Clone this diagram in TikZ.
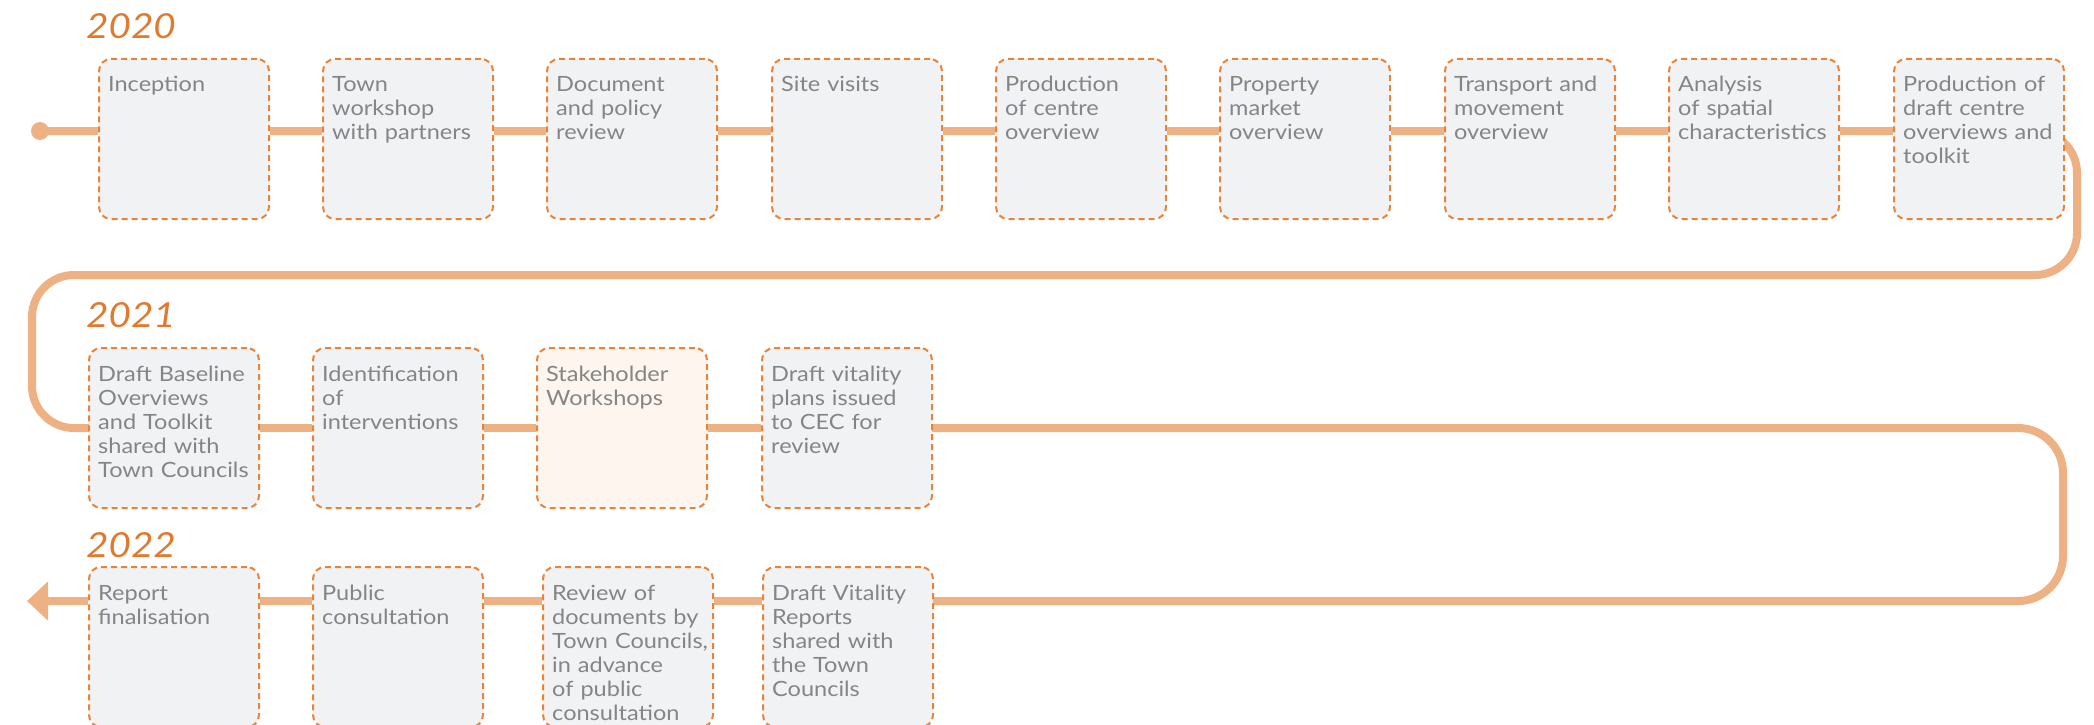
\documentclass[tikz,border=0pt]{standalone}
\usepackage{fontspec}
\setmainfont{Lato}[FakeStretch=1.12]
\usetikzlibrary{arrows.meta,calc,backgrounds}
\definecolor{spineC}{HTML}{EEB184}
\definecolor{borderC}{HTML}{E8833A}
\definecolor{fillC}{HTML}{F1F2F4}
\definecolor{creamC}{HTML}{FDF5EE}
\definecolor{textC}{HTML}{858585}
\definecolor{yearC}{HTML}{E07A30}
\begin{document}
\begin{tikzpicture}[x=1pt,y=-1pt,
  box/.style={draw=borderC, line width=2pt, dash pattern=on 6pt off 4pt, fill=fillC,
    rounded corners=12pt, minimum width=170pt, minimum height=160pt, inner sep=0pt, anchor=north west},
  txt/.style={anchor=base west, align=left, text width=200pt, inner sep=0pt, text=textC,
    font=\fontsize{21}{24}\selectfont},
  yr/.style={anchor=base west, inner sep=0pt, text=yearC, font=\fontsize{34.5}{36}\selectfont\itshape},
  spine/.style={draw=spineC, line width=8pt}]
\useasboundingbox (0,0) rectangle (2094,725);
\coordinate (r1) at (0,131);
\coordinate (r2) at (0,428);
\coordinate (r3) at (0,601);
% years
\node[yr] (y20) at (86,39) {2020};
\node[yr] (y21) at (86,327) {2021};
\node[yr] (y22) at (86,557) {2022};
% row 1
\node[box] (b1) at (98,58) {};
\node[box] (b2) at (322,58) {};
\node[box] (b3) at (546,58) {};
\node[box] (b4) at (771,58) {};
\node[box] (b5) at (995,58) {};
\node[box] (b6) at (1219,58) {};
\node[box] (b7) at (1444,58) {};
\node[box] (b8) at (1668,58) {};
\node[box] (b9) at (1893,58) {};
\node[txt] (t1) at ($(b1.north west)+(10,34)$) {Inception};
\node[txt] (t2) at ($(b2.north west)+(10,34)$) {Town\\workshop\\with partners};
\node[txt] (t3) at ($(b3.north west)+(10,34)$) {Document\\and policy\\review};
\node[txt] (t4) at ($(b4.north west)+(10,34)$) {Site visits};
\node[txt] (t5) at ($(b5.north west)+(10,34)$) {Production\\of centre\\overview};
\node[txt] (t6) at ($(b6.north west)+(10,34)$) {Property\\market\\overview};
\node[txt] (t7) at ($(b7.north west)+(10,34)$) {Transport and\\movement\\overview};
\node[txt] (t8) at ($(b8.north west)+(10,34)$) {Analysis\\of spatial\\characteristics};
\node[txt] (t9) at ($(b9.north west)+(10,34)$) {Production of\\draft centre\\overviews and\\toolkit};
% row 2
\node[box] (c1) at (88,347) {};
\node[box] (c2) at (312,347) {};
\node[box, fill=creamC] (c3) at (536,347) {};
\node[box] (c4) at (761,347) {};
\node[txt] (u1) at ($(c1.north west)+(10,34)$) {Draft Baseline\\Overviews\\and Toolkit\\shared with\\Town Councils};
\node[txt] (u2) at ($(c2.north west)+(10,34)$) {Identification\\of\\interventions};
\node[txt] (u3) at ($(c3.north west)+(10,34)$) {Stakeholder\\Workshops};
\node[txt] (u4) at ($(c4.north west)+(10,34)$) {Draft vitality\\plans issued\\to CEC for\\review};
% row 3
\node[box] (d1) at (88,566) {};
\node[box] (d2) at (312,566) {};
\node[box] (d3) at (542,566) {};
\node[box] (d4) at (762,566) {};
\node[txt] (v1) at ($(d1.north west)+(10,34)$) {Report\\finalisation};
\node[txt] (v2) at ($(d2.north west)+(10,34)$) {Public\\consultation};
\node[txt] (v3) at ($(d3.north west)+(10,34)$) {Review of\\documents by\\Town Councils,\\in advance\\of public\\consultation};
\node[txt] (v4) at ($(d4.north west)+(10,34)$) {Draft Vitality\\Reports\\shared with\\the Town\\Councils};
% start and end
\node[circle, fill=spineC, minimum size=18pt, inner sep=0pt] (s) at (40,131) {};
\coordinate (e) at (27,601);
% connectors
\draw[spine] (s.center) -- (b1.west |- r1);
\foreach \a/\b in {b1/b2,b2/b3,b3/b4,b4/b5,b5/b6,b6/b7,b7/b8,b8/b9}
  \draw[spine] (\a.east |- r1) -- (\b.west |- r1);
\foreach \a/\b in {c1/c2,c2/c3,c3/c4}
  \draw[spine] (\a.east |- r2) -- (\b.west |- r2);
\foreach \a/\b in {d1/d2,d2/d3,d3/d4}
  \draw[spine] (\a.east |- r3) -- (\b.west |- r3);
\draw[spine, -{Triangle[length=21pt,width=38pt]}] (d1.west |- r3) -- (e);
\begin{scope}[on background layer]
\draw[spine, rounded corners=42pt] (b9.center |- r1) -- (2077,131) -- (2077,275) -- (32,275) -- (32,428) -- (c1.center |- r2);
\draw[spine, rounded corners=45pt] (c4.center |- r2) -- (2063,428) -- (2063,601) -- (d4.center |- r3);
\end{scope}
\end{tikzpicture}
\end{document}
